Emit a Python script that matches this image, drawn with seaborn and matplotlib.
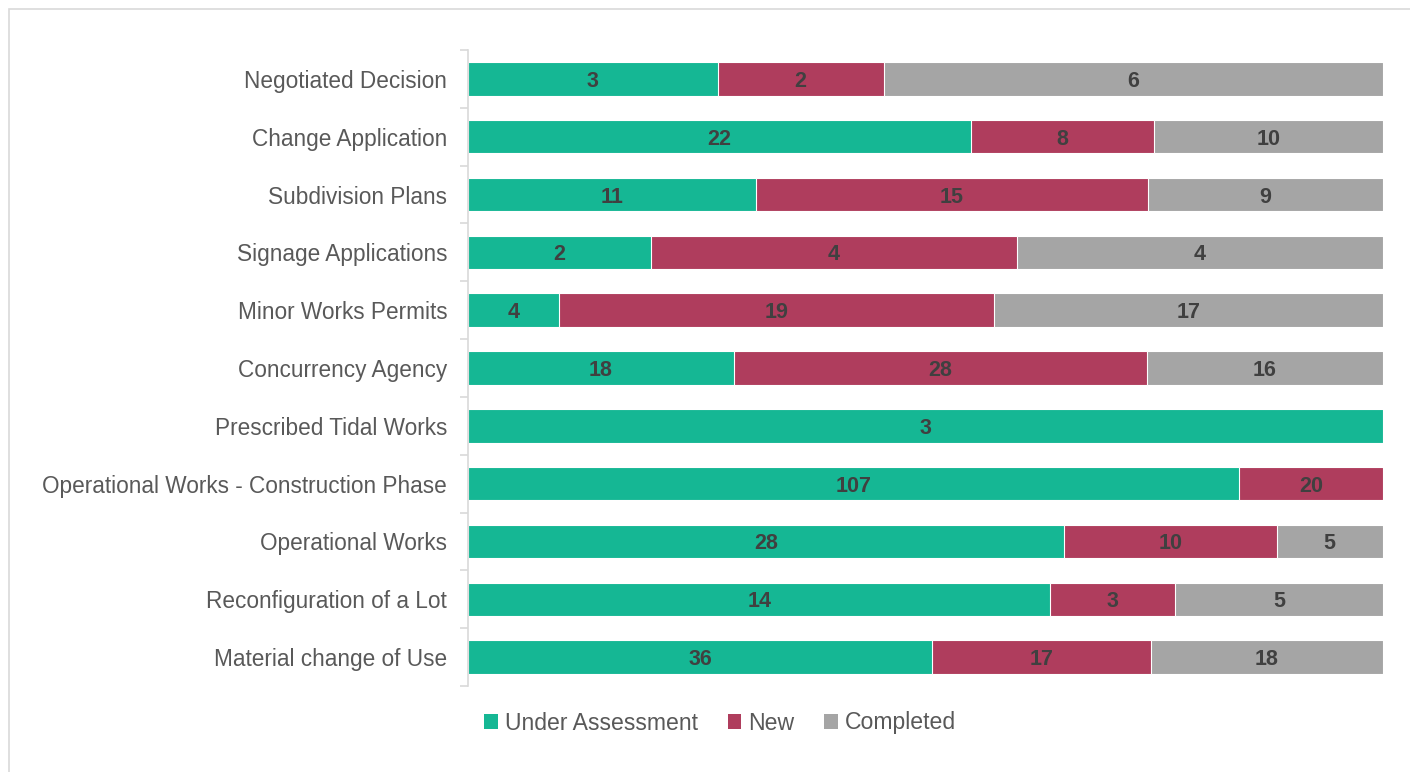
import matplotlib
matplotlib.use('Agg')
import matplotlib.pyplot as plt
from matplotlib.patches import Rectangle, Patch
import seaborn as sns
import pandas as pd
import numpy as np

categories = ['Negotiated Decision', 'Change Application', 'Subdivision Plans',
              'Signage Applications', 'Minor Works Permits', 'Concurrency Agency',
              'Prescribed Tidal Works', 'Operational Works - Construction Phase',
              'Operational Works', 'Reconfiguration of a Lot', 'Material change of Use']
under_assessment = [3, 22, 11, 2, 4, 18, 3, 107, 28, 14, 36]
new = [2, 8, 15, 4, 19, 28, 0, 20, 10, 3, 17]
completed = [6, 10, 9, 4, 17, 16, 0, 0, 5, 5, 18]

series = ['Under Assessment', 'New', 'Completed']
colors = ['#15B794', '#AF3D5D', '#A5A5A5']

df = pd.DataFrame({'cat': categories, 'Under Assessment': under_assessment,
                   'New': new, 'Completed': completed})
total = df[series].sum(axis=1)
share = df[series].div(total, axis=0) * 100
cum = share.cumsum(axis=1)

sns.set_style('white')
plt.rcParams['font.family'] = ['Liberation Sans', 'DejaVu Sans']

fig = plt.figure(figsize=(14.1, 7.72), dpi=100)
ax = fig.add_axes([468 / 1410, 1 - 686 / 772, (1383 - 468) / 1410, (686 - 50) / 772])

# draw from the longest cumulative bar down so each layer shows
for s, c in zip(reversed(series), reversed(colors)):
    sns.barplot(x=cum[s], y=df['cat'], orient='h', color=c, width=0.58,
                saturation=1, edgecolor='white', linewidth=0.8, ax=ax)

# segment labels
for i in range(len(df)):
    left = 0
    for s in series:
        w = share.loc[i, s]
        if df.loc[i, s] > 0:
            ax.text(left + w / 2, i, str(df.loc[i, s]), ha='center',
                    va='center_baseline', fontsize=15.5, fontweight='bold',
                    color='#404040')
        left += w

ax.set_xlim(0, 100)
ax.set_ylim(len(df) - 0.5, -0.5)
ax.set_xlabel('')
ax.set_ylabel('')
ax.set_xticks([])
for side in ['top', 'right', 'bottom']:
    ax.spines[side].set_visible(False)
ax.spines['left'].set_color('#D9D9D9')
ax.spines['left'].set_linewidth(1.2)
ax.set_yticks(range(len(df)))
ax.set_yticks(np.arange(-0.5, len(df), 1), minor=True)
ax.tick_params(axis='y', which='major', left=False, labelsize=16.3,
               labelcolor='#595959', pad=11.5)
ax.tick_params(axis='y', which='minor', left=True, length=6, color='#D9D9D9',
               width=1.2)

handles = [Patch(facecolor=c, edgecolor='none') for c in colors]
fig.legend(handles, series, loc='center', bbox_to_anchor=(720 / 1410, 1 - 723 / 772),
           ncol=3, frameon=False, fontsize=16.6, handlelength=0.6, handleheight=0.6,
           handletextpad=0.3, columnspacing=1.3, labelcolor='#595959')

fig.patches.append(Rectangle((8.5 / 1410, -0.1), 1.2, 1 - 8.5 / 772 + 0.1,
                             transform=fig.transFigure, fill=False,
                             edgecolor='#D9D9D9', linewidth=1.2))

fig.savefig('out.png', dpi=100, facecolor='white')
